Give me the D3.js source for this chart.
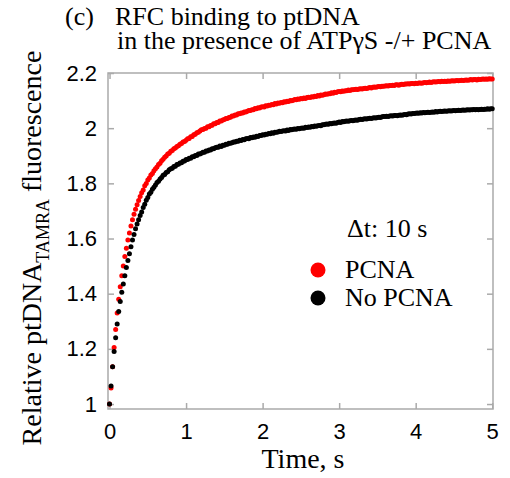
<!DOCTYPE html>
<html>
<head>
<meta charset="utf-8">
<script src="https://cdn.jsdelivr.net/npm/d3@7"></script>
<style>
  body { margin: 0; background: #fff; }
  .chart svg { display: block; }
  .tick text { font-family: "Liberation Sans", Arial, sans-serif; font-size: 22px; fill: #000; }
  .serif { font-family: "Liberation Serif", "Times New Roman", serif; fill: #000; }
</style>
</head>
<body>
<div class="chart"></div>
<script>
// sampling interval of the trace, s
const sampleStep = 0.02;

const xTicks = [0, 1, 2, 3, 4, 5];
const yTicks = [1, 1.2, 1.4, 1.6, 1.8, 2, 2.2];

// PCNA trace (red), one value every 20 ms from t = 0 to 5 s
const pcnaValues = [
  1.000, 1.058, 1.135, 1.205, 1.270, 1.330, 1.380, 1.425, 1.465, 1.500,
  1.535, 1.565, 1.595, 1.620, 1.645, 1.668, 1.688, 1.706, 1.722, 1.738,
  1.752, 1.766, 1.776, 1.791, 1.799, 1.812, 1.819, 1.830, 1.836, 1.846,
  1.853, 1.859, 1.868, 1.873, 1.882, 1.887, 1.895, 1.899, 1.906, 1.909,
  1.916, 1.919, 1.925, 1.928, 1.934, 1.936, 1.942, 1.944, 1.950, 1.952,
  1.956, 1.962, 1.963, 1.969, 1.970, 1.976, 1.978, 1.983, 1.985, 1.990,
  1.994, 1.995, 1.999, 2.000, 2.005, 2.005, 2.010, 2.011, 2.016, 2.016,
  2.021, 2.021, 2.026, 2.026, 2.030, 2.031, 2.035, 2.035, 2.039, 2.040,
  2.044, 2.044, 2.048, 2.048, 2.052, 2.052, 2.055, 2.055, 2.059, 2.059,
  2.061, 2.064, 2.064, 2.067, 2.067, 2.071, 2.070, 2.074, 2.073, 2.077,
  2.078, 2.077, 2.081, 2.080, 2.083, 2.083, 2.086, 2.085, 2.089, 2.088,
  2.091, 2.090, 2.093, 2.092, 2.096, 2.095, 2.098, 2.097, 2.100, 2.099,
  2.101, 2.104, 2.103, 2.106, 2.105, 2.108, 2.107, 2.109, 2.108, 2.111,
  2.112, 2.111, 2.114, 2.113, 2.116, 2.115, 2.118, 2.117, 2.120, 2.119,
  2.121, 2.124, 2.123, 2.125, 2.125, 2.128, 2.127, 2.130, 2.129, 2.132,
  2.133, 2.132, 2.135, 2.134, 2.136, 2.136, 2.138, 2.137, 2.139, 2.139,
  2.140, 2.141, 2.140, 2.142, 2.143, 2.142, 2.144, 2.145, 2.144, 2.146,
  2.147, 2.146, 2.148, 2.149, 2.148, 2.150, 2.151, 2.150, 2.152, 2.152,
  2.153, 2.154, 2.153, 2.155, 2.155, 2.156, 2.155, 2.157, 2.157, 2.156,
  2.158, 2.159, 2.158, 2.160, 2.160, 2.161, 2.160, 2.162, 2.162, 2.161,
  2.163, 2.162, 2.164, 2.164, 2.163, 2.165, 2.166, 2.165, 2.166, 2.167,
  2.166, 2.167, 2.168, 2.167, 2.168, 2.169, 2.168, 2.170, 2.169, 2.170,
  2.169, 2.171, 2.170, 2.171, 2.172, 2.171, 2.172, 2.173, 2.172, 2.173,
  2.174, 2.173, 2.174, 2.175, 2.174, 2.175, 2.176, 2.175, 2.176, 2.176,
  2.175, 2.177, 2.176, 2.177, 2.178, 2.177, 2.178, 2.177, 2.179, 2.178,
  2.178
];

// No PCNA trace (black), same sampling
const noPcnaValues = [
  1.000, 1.065, 1.135, 1.190, 1.240, 1.290, 1.335, 1.372, 1.405, 1.435,
  1.465, 1.495, 1.520, 1.545, 1.570, 1.595, 1.615, 1.635, 1.653, 1.668,
  1.683, 1.696, 1.712, 1.724, 1.739, 1.749, 1.761, 1.768, 1.779, 1.786,
  1.794, 1.803, 1.808, 1.816, 1.821, 1.829, 1.832, 1.839, 1.842, 1.849,
  1.853, 1.855, 1.861, 1.862, 1.868, 1.869, 1.874, 1.875, 1.880, 1.881,
  1.886, 1.886, 1.891, 1.891, 1.896, 1.896, 1.901, 1.901, 1.906, 1.906,
  1.909, 1.913, 1.913, 1.917, 1.917, 1.921, 1.921, 1.925, 1.925, 1.929,
  1.931, 1.931, 1.935, 1.934, 1.938, 1.938, 1.942, 1.942, 1.945, 1.945,
  1.947, 1.950, 1.950, 1.953, 1.953, 1.956, 1.955, 1.959, 1.958, 1.962,
  1.963, 1.962, 1.966, 1.965, 1.968, 1.967, 1.971, 1.970, 1.973, 1.973,
  1.976, 1.975, 1.978, 1.978, 1.981, 1.980, 1.983, 1.982, 1.985, 1.985,
  1.986, 1.989, 1.988, 1.990, 1.991, 1.990, 1.993, 1.992, 1.995, 1.994,
  1.996, 1.997, 1.996, 1.999, 1.998, 2.000, 2.001, 2.000, 2.003, 2.002,
  2.004, 2.003, 2.006, 2.005, 2.008, 2.007, 2.009, 2.010, 2.009, 2.012,
  2.012, 2.014, 2.015, 2.014, 2.017, 2.016, 2.018, 2.019, 2.018, 2.021,
  2.022, 2.021, 2.024, 2.023, 2.025, 2.026, 2.025, 2.027, 2.028, 2.027,
  2.029, 2.030, 2.029, 2.031, 2.032, 2.031, 2.033, 2.034, 2.033, 2.035,
  2.036, 2.035, 2.037, 2.038, 2.037, 2.039, 2.040, 2.039, 2.041, 2.042,
  2.042, 2.043, 2.042, 2.044, 2.045, 2.044, 2.046, 2.046, 2.045, 2.047,
  2.048, 2.047, 2.049, 2.050, 2.049, 2.051, 2.052, 2.051, 2.053, 2.053,
  2.054, 2.055, 2.054, 2.056, 2.055, 2.057, 2.056, 2.057, 2.058, 2.057,
  2.058, 2.059, 2.058, 2.060, 2.059, 2.060, 2.061, 2.060, 2.061, 2.062,
  2.061, 2.062, 2.063, 2.062, 2.063, 2.064, 2.063, 2.064, 2.065, 2.064,
  2.065, 2.066, 2.065, 2.066, 2.067, 2.066, 2.067, 2.067, 2.068, 2.067,
  2.068, 2.067, 2.068, 2.069, 2.068, 2.069, 2.069, 2.070, 2.069, 2.070,
  2.070
];

const seriesNames = ["PCNA", "No PCNA"];
const seriesColors = ["#ff0000", "#000000"];

const width = 510, height = 478;
const margin = { top: 73, right: 17, bottom: 69, left: 108 };
const innerW = width - margin.left - margin.right;
const innerH = height - margin.top - margin.bottom;

const svg = d3.select(".chart").append("svg")
    .attr("width", width)
    .attr("height", height)
    .style("background", "#fff");

const g = svg.append("g")
    .attr("transform", `translate(${margin.left},${margin.top})`);

let x = d3.scaleLinear().domain([-0.02, 5.01]).range([0, innerW]);
let y = d3.scaleLinear().domain([0.982, 2.2]).range([innerH, 0]);

const fmt = d => String(+d.toFixed(1));

// frame
g.append("rect")
    .attr("width", innerW).attr("height", innerH)
    .attr("fill", "none").attr("stroke", "#aaa").attr("stroke-width", 1.5);

// axes, ticks pointing inward on all four sides
const styleAxis = sel => {
    sel.select(".domain").remove();
    sel.selectAll(".tick line").attr("stroke", "#aaa").attr("stroke-width", 1.5);
};
g.append("g")
    .attr("transform", `translate(0,${innerH})`)
    .call(d3.axisBottom(x).tickValues(xTicks).tickSize(-6).tickPadding(14).tickFormat(fmt))
    .call(styleAxis);
g.append("g")
    .call(d3.axisTop(x).tickValues(xTicks).tickSize(-6).tickFormat(""))
    .call(styleAxis);
g.append("g")
    .call(d3.axisLeft(y).tickValues(yTicks).tickSize(-6).tickPadding(11).tickFormat(fmt))
    .call(styleAxis);
g.append("g")
    .attr("transform", `translate(${innerW},0)`)
    .call(d3.axisRight(y).tickValues(yTicks).tickSize(-6).tickFormat(""))
    .call(styleAxis);
g.selectAll(".tick text").attr("font-size", null).attr("font-family", null);

// data dots, red first then black
const traces = [pcnaValues, noPcnaValues];
traces.forEach((vals, k) => {
    g.append("g").selectAll("circle")
        .data(vals.map((v, i) => ({ t: i * sampleStep, v: v })))
        .join("circle")
        .attr("cx", d => x(d.t))
        .attr("cy", d => y(d.v))
        .attr("r", 2.5)
        .attr("fill", seriesColors[k]);
});

// legend
svg.append("text").attr("class", "serif")
    .attr("x", 347).attr("y", 237).attr("font-size", 26)
    .text("Δt: 10 s");
seriesNames.forEach((name, k) => {
    svg.append("circle")
        .attr("cx", 318).attr("cy", 270 + k * 28).attr("r", 7.5)
        .attr("fill", seriesColors[k]);
    svg.append("text").attr("class", "serif")
        .attr("x", 345).attr("y", 278 + k * 28).attr("font-size", 26)
        .text(name);
});

// title
svg.append("text").attr("class", "serif").attr("font-size", 26)
    .attr("x", 65).attr("y", 25).text("(c)");
svg.append("text").attr("class", "serif").attr("font-size", 26)
    .attr("x", 115).attr("y", 25).text("RFC binding to ptDNA");
svg.append("text").attr("class", "serif").attr("font-size", 26)
    .attr("x", 117).attr("y", 49).text("in the presence of ATPγS -/+ PCNA");

// axis labels
svg.append("text").attr("class", "serif")
    .attr("x", 303).attr("y", 468)
    .attr("text-anchor", "middle").attr("font-size", 28)
    .text("Time, s");

const yLabel = svg.append("text").attr("class", "serif")
    .attr("transform", "translate(41,248) rotate(-90)")
    .attr("text-anchor", "middle").attr("font-size", 28);
yLabel.append("tspan").text("Relative ptDNA");
yLabel.append("tspan").attr("dy", 8).attr("font-size", 18).text("TAMRA");
yLabel.append("tspan").attr("dy", -8).text(" fluorescence");
</script>
</body>
</html>
